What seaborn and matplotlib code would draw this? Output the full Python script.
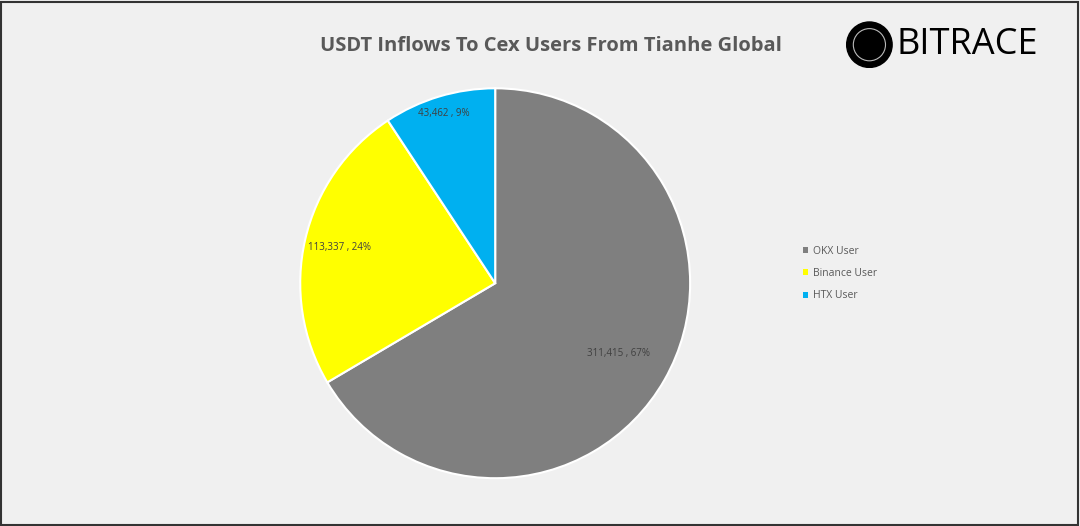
import numpy as np
import matplotlib
matplotlib.use("Agg")
import matplotlib.pyplot as plt
import seaborn as sns
from matplotlib.patches import Circle, Rectangle

# Dados
categorias = ["OKX User", "Binance User", "HTX User"]
valores = [311415, 113337, 43462]
percentuais = ["67%", "24%", "9%"]
cores = ["#7f7f7f", "#ffff00", "#00b0f0"]
dist_rotulos = [0.73, 0.82, 0.91]

sns.set_style("white")
plt.rcParams['font.family'] = ['Open Sans', 'DejaVu Sans']

fig = plt.figure(figsize=(10.8, 5.26), dpi=100, facecolor="#f0f0f0")
fig.patches.append(Rectangle((0.001, 0.002), 0.997, 0.995, transform=fig.transFigure,
                             fill=False, edgecolor="#333333", linewidth=1.5))

ax = fig.add_axes([0.277, 0.089, 0.363, 0.745])
ax.set_facecolor("#f0f0f0")
wedges, _ = ax.pie(valores, colors=cores, startangle=90, counterclock=False,
                   wedgeprops=dict(edgecolor="white", linewidth=1.5))
ax.set_xlim(-1.005, 1.005)
ax.set_ylim(-1.005, 1.005)
ax.set_aspect("equal")

for w, v, p, d in zip(wedges, valores, percentuais, dist_rotulos):
    ang = np.deg2rad((w.theta1 + w.theta2) / 2)
    ax.text(d * np.cos(ang), d * np.sin(ang), f"{v:,} , {p}",
            ha="center", va="center", fontsize=7, color="#404040")

# Título
fig.text(0.51, 0.912, "USDT Inflows To Cex Users From Tianhe Global",
         ha="center", va="center", fontsize=14.5, fontweight="bold", color="#595959")

# Logo
lax = fig.add_axes([0.78, 0.87, 0.05, 0.09])
lax.set_aspect("equal")
lax.axis("off")
lax.add_patch(Circle((0.5, 0.5), 0.48, color="black"))
lax.add_patch(Circle((0.5, 0.5), 0.34, fill=False, edgecolor="#bbbbbb", linewidth=0.8))
lax.set_xlim(0, 1)
lax.set_ylim(0, 1)
fig.text(0.83, 0.915, "BITRACE", ha="left", va="center", fontsize=26,
         color="black", fontweight="medium")

# Legenda
leg = fig.legend(wedges, categorias, loc="center left", bbox_to_anchor=(0.735, 0.48),
                 frameon=False, fontsize=7.5, handlelength=0.5, handleheight=0.5,
                 labelspacing=1.1, handletextpad=0.4)
for t in leg.get_texts():
    t.set_color("#595959")
for h in leg.legend_handles:
    h.set_edgecolor("none")

fig.savefig("out.png", dpi=100, facecolor=fig.get_facecolor())
